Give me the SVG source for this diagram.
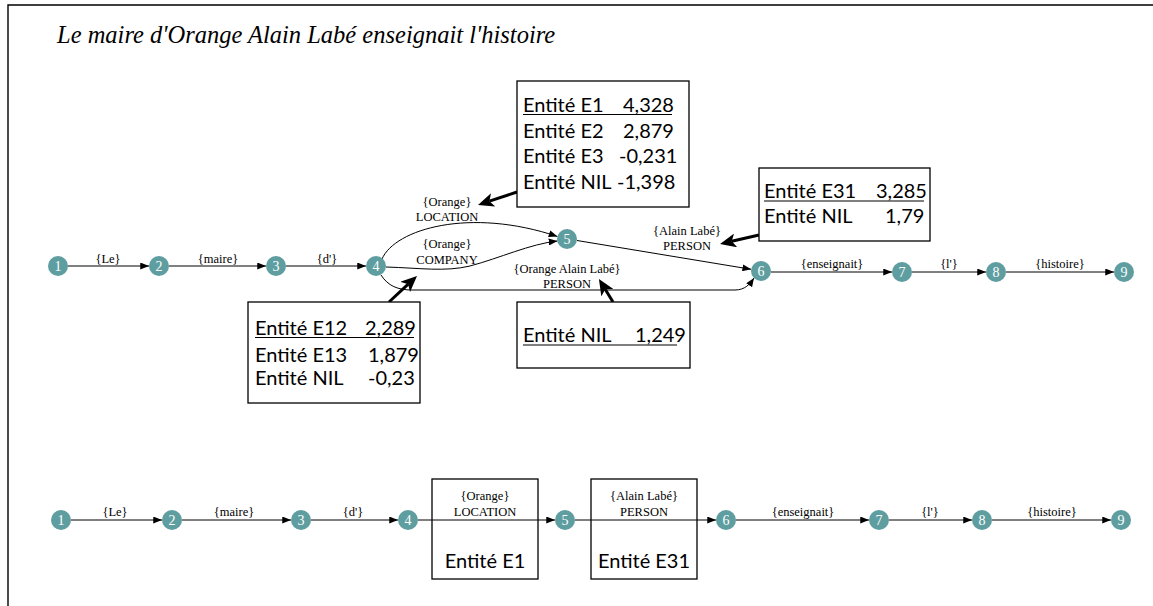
<svg xmlns="http://www.w3.org/2000/svg" width="1153" height="606" viewBox="0 0 1153 606">
<style>
.n{fill:#5f9ea0}
.nt{font-family:"Liberation Serif","Times New Roman",serif;font-size:14px;fill:#fff;text-anchor:middle}
.lb{font-family:"Liberation Serif","Times New Roman",serif;font-size:12.5px;fill:#000;text-anchor:middle}
.e{fill:none;stroke:#000;stroke-width:1;marker-end:url(#a)}
.t{fill:none;stroke:#000;stroke-width:3;marker-end:url(#b)}
.bx{fill:#fff;stroke:#000;stroke-width:1.3}
.bt{font-family:Lato,"Open Sans","Liberation Sans",sans-serif;font-size:20px;fill:#000}
.ul{stroke:#000;stroke-width:1.2}
</style>
<defs>
<marker id="a" markerUnits="userSpaceOnUse" viewBox="0 0 10 8" refX="10" refY="4" markerWidth="9" markerHeight="7" orient="auto"><path d="M0,0 L10,4 L0,8 z" fill="#000"/></marker>
<marker id="b" markerUnits="userSpaceOnUse" viewBox="0 0 16 14" refX="4" refY="7" markerWidth="16" markerHeight="14" orient="auto"><path d="M0,0 L16,7 L0,14 L4,7 z" fill="#000"/></marker>
</defs>
<rect width="1153" height="606" fill="#fff"/>
<path d="M8,606 L8,5 L1153,5" fill="none" stroke="#000" stroke-width="1.4"/>
<text x="57" y="43" font-family="Liberation Serif,'Times New Roman',serif" font-style="italic" font-size="24.5">Le maire d'Orange Alain Labé enseignait l'histoire</text>

<g id="connectors">
<path class="e" d="M68,266 L149,266"/>
<path class="e" d="M169,266 L266,266"/>
<path class="e" d="M286,266 L366,266"/>
<path class="e" d="M382,259 C395,229 470,207 557.5,236.5"/>
<path class="e" d="M386,267 C420,268 445,272 470,266 C500,258 530,244 557.5,241"/>
<path class="e" d="M381,275 C388,286 398,290 412,290 L735,290 C745,290 750,284 754,278"/>
<path class="e" d="M577,240.5 L751.2,269.3"/>
<path class="e" d="M771,272 L892,272"/>
<path class="e" d="M912,272 L986,272"/>
<path class="e" d="M1006,272 L1114,272"/>
<path class="t" d="M517,192 L489.4,201.2"/>
<path class="t" d="M759,235 L731.7,241.3"/>
<path class="t" d="M389,302 L408.2,284.2"/>
<path class="t" d="M613,302 L605.2,289.3"/>
<path class="e" d="M71,520 L162,520"/>
<path class="e" d="M182,520 L291,520"/>
<path class="e" d="M311,520 L398,520"/>
<path class="e" d="M418,520 L555,520"/>
<path class="e" d="M575,520 L716,520"/>
<path class="e" d="M736,520 L869,520"/>
<path class="e" d="M889,520 L972,520"/>
<path class="e" d="M992,520 L1111,520"/>
</g>

<g id="edge-labels">
<text class="lb" x="108" y="263">{Le}</text>
<text class="lb" x="218" y="263">{maire}</text>
<text class="lb" x="327" y="263">{d'}</text>
<text class="lb" x="447" y="206">{Orange}</text>
<text class="lb" x="447" y="221">LOCATION</text>
<text class="lb" x="447" y="248">{Orange}</text>
<text class="lb" x="447" y="264">COMPANY</text>
<text class="lb" x="567" y="273">{Orange Alain Labé}</text>
<text class="lb" x="567" y="288">PERSON</text>
<text class="lb" x="687" y="235">{Alain Labé}</text>
<text class="lb" x="687" y="250">PERSON</text>
<text class="lb" x="832" y="268">{enseignait}</text>
<text class="lb" x="949" y="268">{l'}</text>
<text class="lb" x="1060" y="268">{histoire}</text>
<text class="lb" x="115" y="516">{Le}</text>
<text class="lb" x="234" y="516">{maire}</text>
<text class="lb" x="353" y="516">{d'}</text>
<text class="lb" x="803" y="516">{enseignait}</text>
<text class="lb" x="930" y="516">{l'}</text>
<text class="lb" x="1052" y="516">{histoire}</text>
</g>

<g id="t1"><circle class="n" cx="58" cy="266" r="10"/><text class="nt" x="58" y="271">1</text></g>
<g id="t2"><circle class="n" cx="159" cy="266" r="10"/><text class="nt" x="159" y="271">2</text></g>
<g id="t3"><circle class="n" cx="276" cy="266" r="10"/><text class="nt" x="276" y="271">3</text></g>
<g id="t4"><circle class="n" cx="376" cy="266" r="10"/><text class="nt" x="376" y="271">4</text></g>
<g id="t5"><circle class="n" cx="567" cy="239" r="10"/><text class="nt" x="567" y="244">5</text></g>
<g id="t6"><circle class="n" cx="761" cy="271" r="10"/><text class="nt" x="761" y="276">6</text></g>
<g id="t7"><circle class="n" cx="902" cy="272" r="10"/><text class="nt" x="902" y="277">7</text></g>
<g id="t8"><circle class="n" cx="996" cy="272" r="10"/><text class="nt" x="996" y="277">8</text></g>
<g id="t9"><circle class="n" cx="1124" cy="272" r="10"/><text class="nt" x="1124" y="277">9</text></g>

<g id="boxE1">
<rect class="bx" x="517" y="81" width="172" height="126"/>
<text class="bt" x="523" y="112">Entité E1</text><text class="bt" x="623" y="112">4,328</text>
<line class="ul" x1="523" y1="114.5" x2="672" y2="114.5"/>
<text class="bt" x="523" y="138">Entité E2</text><text class="bt" x="623" y="138">2,879</text>
<text class="bt" x="523" y="163">Entité E3</text><text class="bt" x="619" y="163">-0,231</text>
<text class="bt" x="523" y="189">Entité NIL</text><text class="bt" x="617" y="189">-1,398</text>
</g>
<g id="boxE31">
<rect class="bx" x="759" y="168" width="171" height="73"/>
<text class="bt" x="764" y="198">Entité E31</text><text class="bt" x="876" y="198">3,285</text>
<line class="ul" x1="764" y1="201" x2="924" y2="201"/>
<text class="bt" x="764" y="223">Entité NIL</text><text class="bt" x="885" y="223">1,79</text>
</g>
<g id="boxE12">
<rect class="bx" x="248" y="302" width="172" height="101"/>
<text class="bt" x="255" y="335">Entité E12</text><text class="bt" x="365" y="335">2,289</text>
<line class="ul" x1="255" y1="337.5" x2="414" y2="337.5"/>
<text class="bt" x="255" y="362">Entité E13</text><text class="bt" x="368" y="362">1,879</text>
<text class="bt" x="255" y="385">Entité NIL</text><text class="bt" x="368" y="385">-0,23</text>
</g>
<g id="boxNIL">
<rect class="bx" x="517" y="302" width="173" height="66"/>
<text class="bt" x="523" y="342">Entité NIL</text><text class="bt" x="635" y="342">1,249</text>
<line class="ul" x1="523" y1="345" x2="677" y2="345"/>
</g>

<g id="b1"><circle class="n" cx="61" cy="520" r="10"/><text class="nt" x="61" y="525">1</text></g>
<g id="b2"><circle class="n" cx="172" cy="520" r="10"/><text class="nt" x="172" y="525">2</text></g>
<g id="b3"><circle class="n" cx="301" cy="520" r="10"/><text class="nt" x="301" y="525">3</text></g>
<g id="b4"><circle class="n" cx="408" cy="520" r="10"/><text class="nt" x="408" y="525">4</text></g>
<g id="bE1">
<rect x="432" y="479" width="106" height="100" fill="none" stroke="#000" stroke-width="1.3"/>
<text class="lb" x="485" y="500">{Orange}</text>
<text class="lb" x="485" y="516">LOCATION</text>
<text class="bt" x="485" y="568" text-anchor="middle" font-size="21">Entité E1</text>
</g>
<g id="b5"><circle class="n" cx="565" cy="520" r="10"/><text class="nt" x="565" y="525">5</text></g>
<g id="bE31">
<rect x="591" y="479" width="106" height="100" fill="none" stroke="#000" stroke-width="1.3"/>
<text class="lb" x="644" y="500">{Alain Labé}</text>
<text class="lb" x="644" y="516">PERSON</text>
<text class="bt" x="644" y="568" text-anchor="middle" font-size="21">Entité E31</text>
</g>
<g id="b6"><circle class="n" cx="726" cy="520" r="10"/><text class="nt" x="726" y="525">6</text></g>
<g id="b7"><circle class="n" cx="879" cy="520" r="10"/><text class="nt" x="879" y="525">7</text></g>
<g id="b8"><circle class="n" cx="982" cy="520" r="10"/><text class="nt" x="982" y="525">8</text></g>
<g id="b9"><circle class="n" cx="1121" cy="520" r="10"/><text class="nt" x="1121" y="525">9</text></g>
</svg>
